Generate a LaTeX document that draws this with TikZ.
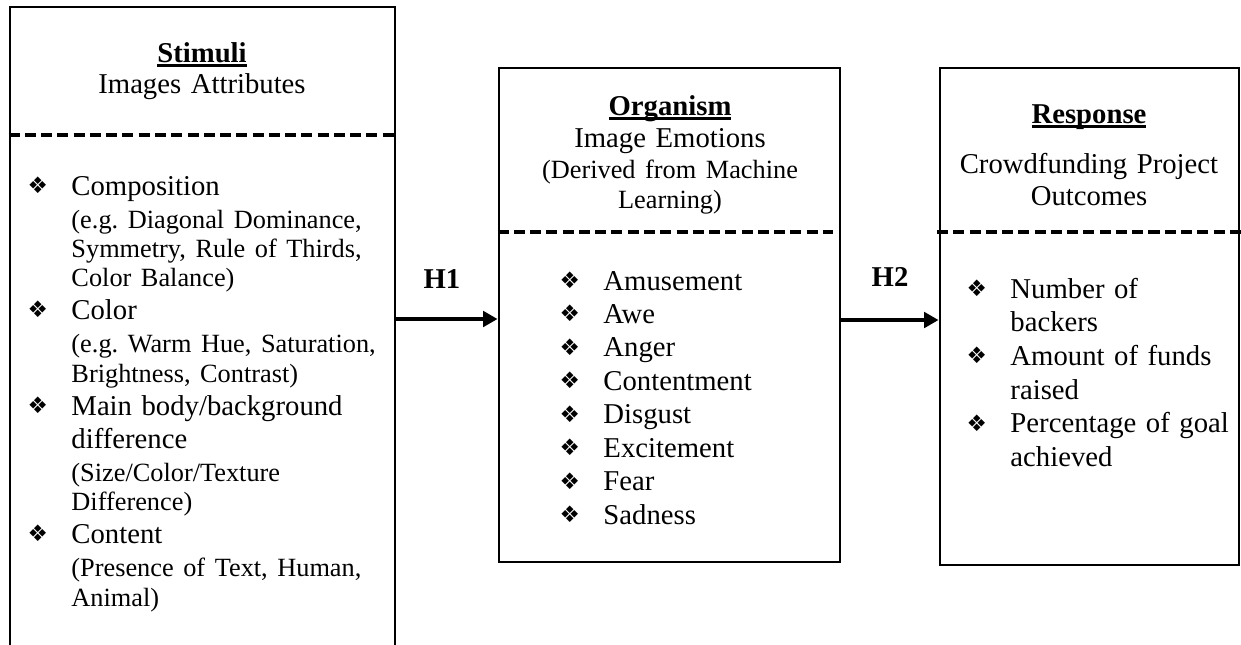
\documentclass[tikz,border=0pt]{standalone}
\usepackage{fontspec}
\setmainfont{Liberation Serif}
\newfontfamily\symfont{DejaVu Sans}
\usetikzlibrary{arrows.meta,fit}

\newcommand{\ulbf}[1]{\leavevmode\setbox0\hbox{\textbf{#1}}\rlap{\rule[-2pt]{\wd0}{1pt}}\box0}
\newcommand{\bul}{\leavevmode\llap{{\symfont\fontsize{9.5}{10}\selectfont\raisebox{0.8pt}{❖}}\hspace{9.8pt}}}
\newcommand{\smalltxt}[2][13.8pt]{{\fontsize{11}{#1}\selectfont #2\par}}

\begin{document}
\frenchspacing
\begin{tikzpicture}[x=0.418pt,y=-0.418pt,
	box/.style={draw,line width=1.2pt,inner sep=0pt},
	sep/.style={line width=1.5pt,dash pattern=on 4.6pt off 2.2pt},
	arr/.style={line width=1.6pt,-{Triangle[length=6pt,width=6.4pt]}},
	txt/.style={inner sep=0pt,font=\fontsize{12}{13.8}\selectfont},
	head/.style={txt,anchor=base,text width=#1,align=center},
	list/.style={txt,anchor=base west,text width=170pt,align=left},
	hyp/.style={inner sep=0pt,font=\fontsize{12}{14}\selectfont\bfseries}]
			   \useasboundingbox (0,0) rectangle (1241,644);
			   \clip (0,0) rectangle (1241,644);
			   \node[box,fit={(10,7) (395,720)}] (stim) {};
			   \node[box,fit={(499,68) (840,562)}] (org) {};
			   \node[box,fit={(940,68) (1239,565)}] (resp) {};
			   \draw[sep] (stim.west |- 0,135) -- (stim.east |- 0,135);
			   \draw[sep] (org.west |- 0,232) -- (833,232);
			   \draw[sep] (937,232) -- (1241,232);
			   \node[head=150pt] (stimhead) at (202,62) {\ulbf{Stimuli}\par
					{\fontsize{12}{13}\selectfont Images Attributes\par}};
			   \node[head=150pt] (orghead) at (670,115) {\ulbf{Organism}\par
					{\fontsize{12}{13.6}\selectfont Image Emotions\par}
					\smalltxt[13pt]{(Derived from Machine}
					\smalltxt[12.5pt]{Learning)}};
			   \node[head=150pt] (resphead) at (1089,123) {\ulbf{Response}\par
					{\fontsize{12}{20.9}\selectfont Crowdfunding Project\par}
					{\fontsize{12}{13.4}\selectfont Outcomes\par}};
			   \node[list] (stimlist) at (71,195) {\bul Composition\par
					\smalltxt{(e.g. Diagonal Dominance,}
					\smalltxt[12.3pt]{Symmetry, Rule of Thirds,}
					\smalltxt[12.3pt]{Color Balance)}
					\bul Color\par
					\smalltxt{(e.g. Warm Hue, Saturation,}
					\smalltxt[12.3pt]{Brightness, Contrast)}
					\bul Main body/background\par
					difference\par
					\smalltxt{(Size/Color/Texture}
					\smalltxt[12.3pt]{Difference)}
					\bul Content\par
					\smalltxt{(Presence of Text, Human,}
					\smalltxt[12.3pt]{Animal)}};
			   \node[list,font=\fontsize{12}{14}\selectfont] (orglist) at (603,290) {\bul Amusement\par
					\bul Awe\par
					\bul Anger\par
					\bul Contentment\par
					\bul Disgust\par
					\bul Excitement\par
					\bul Fear\par
					\bul Sadness\par};
			   \node[list,font=\fontsize{12}{14.1}\selectfont] (resplist) at (1010,298) {\bul Number of\par
					backers\par
					\bul Amount of funds\par
					raised\par
					\bul Percentage of goal\par
					achieved\par};
			   \node[hyp] (h1) at (442,279) {H1};
			   \node[hyp] (h2) at (890,277) {H2};
				\draw[arr] (stim.east |- 0,319) -- (org.west |- 0,319);
				\draw[arr] (org.east |- 0,320) -- (resp.west |- 0,320);
			\end{tikzpicture}
\end{document}
